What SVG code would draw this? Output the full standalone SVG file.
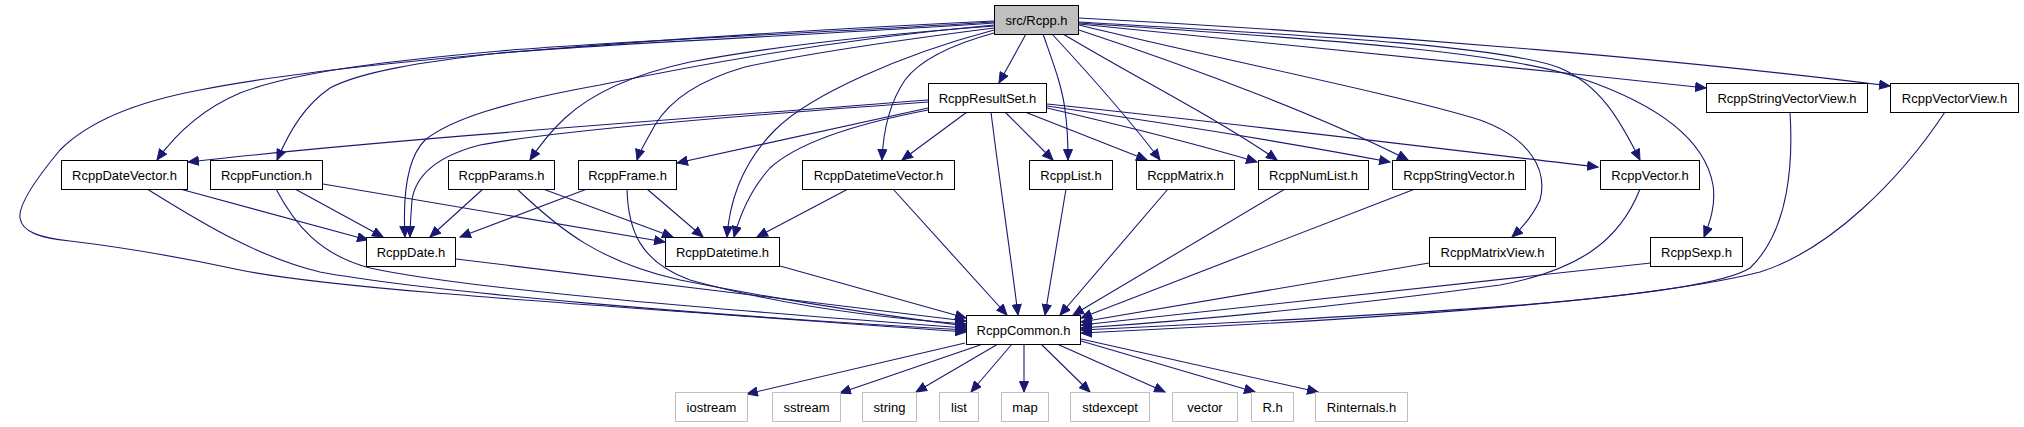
<svg xmlns="http://www.w3.org/2000/svg" width="2024" height="427" viewBox="0 0 2024 427">
<style>
.n rect{fill:#fff;stroke:#000;stroke-width:1}
.g rect{fill:#fff;stroke:#bfbfbf;stroke-width:1}
.r rect{fill:#bfbfbf;stroke:#000;stroke-width:1}
text{font-family:"Liberation Sans",Arial,sans-serif;font-size:13px;fill:#000;text-anchor:middle}
.e path{fill:none;stroke:#191970;stroke-width:1.1;marker-end:url(#a)}
</style>
<defs>
<marker id="a" markerWidth="12" markerHeight="10" refX="11" refY="5" orient="auto" markerUnits="userSpaceOnUse"><path d="M0.5,0.5L11,5L0.5,9.5z" fill="#191970" stroke="#191970" stroke-width="1"/></marker>
</defs>
<rect width="2024" height="427" fill="#fff"/>
<g class="e" id="connectors">
<path d="M1026,34 L999,83"/>
<path d="M994,22 C800,34 600,42 500,51 C400,60 300,70 240,93 C200,110 175,135 157,160"/>
<path d="M994,23 C800,36 600,44 500,53 C420,62 360,72 330,88 C305,105 290,130 277,160"/>
<path d="M994,26 C900,33 780,45 690,62 C630,75 590,95 565,118 C550,132 540,145 530,160"/>
<path d="M994,28 C900,40 800,55 745,67 C700,80 670,100 655,125 C647,140 640,150 637,160"/>
<path d="M994,33 C950,45 920,60 905,80 C888,105 883,135 882,160"/>
<path d="M994,25 C850,38 720,60 600,85 C500,103 450,120 425,140 C405,160 403,200 405,237"/>
<path d="M994,30 C900,55 810,95 775,130 C745,160 730,195 727,237"/>
<path d="M994,21 C700,35 350,60 200,90 C130,103 85,125 60,150 C35,180 18,205 20,218 C22,232 40,238 70,241 C120,247 180,257 240,270 C330,288 520,300 966,332"/>
<path d="M1043,34 C1052,60 1062,85 1065,110 C1068,130 1068,145 1068,160"/>
<path d="M1052,34 C1090,75 1130,120 1160,160"/>
<path d="M1063,34 C1140,80 1220,120 1277,160"/>
<path d="M1079,30 C1200,70 1330,120 1408,160"/>
<path d="M1079,22 C1300,35 1500,45 1560,68 C1600,85 1620,120 1640,160"/>
<path d="M1079,25 C1200,55 1400,95 1480,120 C1530,138 1548,170 1540,200 C1533,215 1522,228 1512,237"/>
<path d="M1079,23 C1300,38 1500,50 1580,78 C1660,105 1705,140 1713,185 C1716,205 1710,222 1704,237"/>
<path d="M1079,24 C1300,45 1500,66 1706,88"/>
<path d="M1079,18 C1400,35 1700,62 1890,86"/>
<path d="M928,100 C700,118 400,138 188,162"/>
<path d="M928,102 C750,115 560,130 480,145 C430,158 415,180 412,200 C411,215 410,225 410,237"/>
<path d="M928,110 C850,125 795,145 770,168 C750,190 740,215 734,237"/>
<path d="M928,108 L677,163"/>
<path d="M967,112 L902,160"/>
<path d="M1005,112 L1053,160"/>
<path d="M1025,112 L1147,160"/>
<path d="M1047,108 C1120,125 1200,145 1257,162"/>
<path d="M1047,106 C1180,125 1300,145 1390,162"/>
<path d="M1047,104 C1250,125 1450,150 1598,167"/>
<path d="M991,112 C998,170 1010,250 1018,315"/>
<path d="M180,189 L368,240"/>
<path d="M147,189 C190,215 250,255 320,272 C430,292 700,315 966,330"/>
<path d="M295,189 L383,237"/>
<path d="M323,184 L665,242"/>
<path d="M276,189 C295,225 320,255 370,268 C470,290 750,312 966,328"/>
<path d="M483,189 L430,237"/>
<path d="M543,189 L673,237"/>
<path d="M517,189 C560,230 600,262 680,280 C780,300 880,315 966,326"/>
<path d="M587,189 L460,237"/>
<path d="M647,189 L703,237"/>
<path d="M627,189 C628,230 640,262 690,280 C780,305 880,318 966,324"/>
<path d="M848,189 L757,237"/>
<path d="M893,189 L1007,315"/>
<path d="M1066,189 L1045,315"/>
<path d="M1168,189 L1060,315"/>
<path d="M1285,189 L1073,315"/>
<path d="M1415,189 L1081,318"/>
<path d="M1640,189 C1620,240 1580,270 1500,285 C1350,305 1200,320 1081,328"/>
<path d="M456,259 L966,321"/>
<path d="M780,266 L966,318"/>
<path d="M1429,263 L1081,322"/>
<path d="M1651,263 L1081,325"/>
<path d="M1790,112 C1793,160 1790,230 1750,268 C1700,300 1400,315 1081,330"/>
<path d="M1945,112 C1900,180 1830,250 1760,272 C1650,300 1400,318 1081,333"/>
<path d="M965,343 L747,394"/>
<path d="M983,344 L840,393"/>
<path d="M998,344 L916,392"/>
<path d="M1012,344 L971,392"/>
<path d="M1024,344 L1024,392"/>
<path d="M1041,344 L1090,392"/>
<path d="M1057,344 L1165,392"/>
<path d="M1081,341 L1255,392"/>
<path d="M1081,339 L1318,392"/>
</g>
<g id="n_rcpp" class="r"><rect x="994.5" y="5.5" width="84" height="29"/><text x="1036.5" y="24.5">src/Rcpp.h</text></g>
<g id="n_resultset" class="n"><rect x="928.5" y="83.5" width="118" height="29"/><text x="987.5" y="102.5">RcppResultSet.h</text></g>
<g id="n_stringvectorview" class="n"><rect x="1706.5" y="83.5" width="161" height="29"/><text x="1787" y="102.5">RcppStringVectorView.h</text></g>
<g id="n_vectorview" class="n"><rect x="1890.5" y="83.5" width="128" height="29"/><text x="1954.5" y="102.5">RcppVectorView.h</text></g>
<g id="n_datevector" class="n"><rect x="61.5" y="160.5" width="126" height="29"/><text x="124.5" y="179.5">RcppDateVector.h</text></g>
<g id="n_function" class="n"><rect x="210.5" y="160.5" width="112" height="29"/><text x="266.5" y="179.5">RcppFunction.h</text></g>
<g id="n_params" class="n"><rect x="448.5" y="160.5" width="106" height="29"/><text x="501.5" y="179.5">RcppParams.h</text></g>
<g id="n_frame" class="n"><rect x="578.5" y="160.5" width="98" height="29"/><text x="627.5" y="179.5">RcppFrame.h</text></g>
<g id="n_datetimevector" class="n"><rect x="802.5" y="160.5" width="152" height="29"/><text x="878.5" y="179.5">RcppDatetimeVector.h</text></g>
<g id="n_list" class="n"><rect x="1029.5" y="160.5" width="83" height="29"/><text x="1071" y="179.5">RcppList.h</text></g>
<g id="n_matrix" class="n"><rect x="1136.5" y="160.5" width="98" height="29"/><text x="1185.5" y="179.5">RcppMatrix.h</text></g>
<g id="n_numlist" class="n"><rect x="1258.5" y="160.5" width="110" height="29"/><text x="1313.5" y="179.5">RcppNumList.h</text></g>
<g id="n_stringvector" class="n"><rect x="1392.5" y="160.5" width="133" height="29"/><text x="1459" y="179.5">RcppStringVector.h</text></g>
<g id="n_vector" class="n"><rect x="1600.5" y="160.5" width="99" height="29"/><text x="1650" y="179.5">RcppVector.h</text></g>
<g id="n_date" class="n"><rect x="366.5" y="237.5" width="89" height="29"/><text x="411" y="256.5">RcppDate.h</text></g>
<g id="n_datetime" class="n"><rect x="665.5" y="237.5" width="114" height="29"/><text x="722.5" y="256.5">RcppDatetime.h</text></g>
<g id="n_matrixview" class="n"><rect x="1429.5" y="237.5" width="126" height="29"/><text x="1492.5" y="256.5">RcppMatrixView.h</text></g>
<g id="n_sexp" class="n"><rect x="1650.5" y="237.5" width="92" height="29"/><text x="1696.5" y="256.5">RcppSexp.h</text></g>
<g id="n_common" class="n"><rect x="966.5" y="315.5" width="114" height="29"/><text x="1023.5" y="334.5">RcppCommon.h</text></g>
<g id="n_iostream" class="g"><rect x="675.5" y="392.5" width="72" height="29"/><text x="711.5" y="411.5">iostream</text></g>
<g id="n_sstream" class="g"><rect x="772.5" y="392.5" width="68" height="29"/><text x="806.5" y="411.5">sstream</text></g>
<g id="n_string" class="g"><rect x="862.5" y="392.5" width="54" height="29"/><text x="889.5" y="411.5">string</text></g>
<g id="n_list2" class="g"><rect x="939.5" y="392.5" width="39" height="29"/><text x="959" y="411.5">list</text></g>
<g id="n_map" class="g"><rect x="1001.5" y="392.5" width="47" height="29"/><text x="1025" y="411.5">map</text></g>
<g id="n_stdexcept" class="g"><rect x="1070.5" y="392.5" width="79" height="29"/><text x="1110" y="411.5">stdexcept</text></g>
<g id="n_vector2" class="g"><rect x="1172.5" y="392.5" width="65" height="29"/><text x="1205" y="411.5">vector</text></g>
<g id="n_rh" class="g"><rect x="1251.5" y="392.5" width="42" height="29"/><text x="1272.5" y="411.5">R.h</text></g>
<g id="n_rinternals" class="g"><rect x="1315.5" y="392.5" width="92" height="29"/><text x="1361.5" y="411.5">Rinternals.h</text></g>
</svg>
